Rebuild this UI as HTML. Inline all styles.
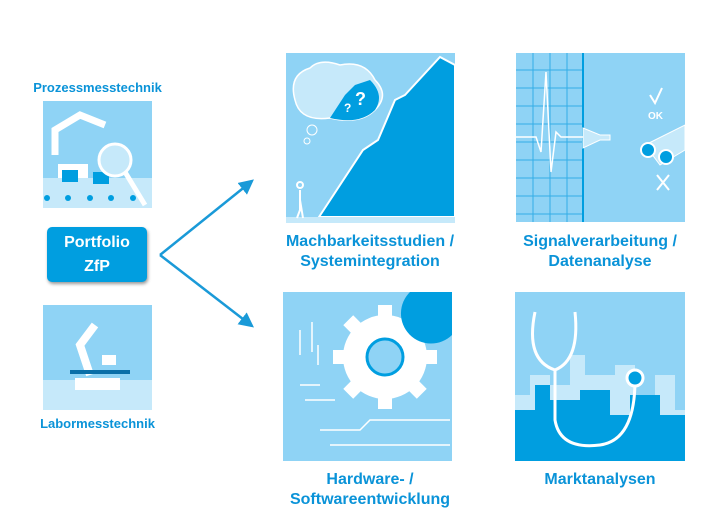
<!DOCTYPE html>
<html><head><style>
body{margin:0;width:713px;height:518px;background:#fff;font-family:"Liberation Sans",sans-serif;position:relative;overflow:hidden}
.t{position:absolute;color:#0a93d8;font-weight:bold;text-align:center}
.s{font-size:13px}
.b{font-size:16px;line-height:20px}
</style></head><body>
<div class="t s" style="left:20px;top:80px;width:155px">Prozessmesstechnik</div>
<div class="t s" style="left:20px;top:416px;width:155px">Labormesstechnik</div>
<div style="position:absolute;left:47px;top:227px;width:100px;height:55px;background:#009ee0;border-radius:5px;box-shadow:1px 2px 3px #999;color:#fff;font-weight:bold;font-size:16px;text-align:center;line-height:24px;padding-top:4px;box-sizing:border-box">Portfolio<br>ZfP</div>
<div class="t b" style="left:250px;top:232px;width:240px">Machbarkeitsstudien /<br>Systemintegration</div>
<div class="t b" style="left:480px;top:232px;width:240px">Signalverarbeitung /<br>Datenanalyse</div>
<div class="t b" style="left:250px;top:470px;width:240px">Hardware- /<br>Softwareentwicklung</div>
<div class="t b" style="left:480px;top:470px;width:240px">Marktanalysen</div>
<svg width="713" height="518" style="position:absolute;left:0;top:0">
<defs><marker id="a" markerWidth="6" markerHeight="6" refX="5" refY="3" orient="auto"><path d="M0,0L6,3L0,6z" fill="#1a9ad8"/></marker></defs>
<path d="M160,255L252,181" stroke="#1a9ad8" stroke-width="2.5" fill="none" marker-end="url(#a)"/>
<path d="M160,255L252,326" stroke="#1a9ad8" stroke-width="2.5" fill="none" marker-end="url(#a)"/>
<!-- left top -->
<rect x="43" y="101" width="109" height="107" fill="#8fd3f5"/>
<rect x="43" y="178" width="109" height="30" fill="#c6e9fa"/>
<g fill="#009ee0"><circle cx="47" cy="198" r="3"/><circle cx="68" cy="198" r="3"/><circle cx="90" cy="198" r="3"/><circle cx="111" cy="198" r="3"/><circle cx="133" cy="198" r="3"/></g>
<path d="M55,155L55,130L80,115L105,125" stroke="#fff" stroke-width="7" fill="none"/>
<rect x="58" y="164" width="30" height="14" fill="#fff"/>
<rect x="62" y="170" width="16" height="12" fill="#009ee0"/><rect x="93" y="172" width="16" height="12" fill="#009ee0"/>
<circle cx="115" cy="160" r="16" fill="#c6e9fa" stroke="#fff" stroke-width="3"/>
<path d="M125,172L145,205" stroke="#fff" stroke-width="5"/>
<!-- left bottom -->
<rect x="43" y="305" width="109" height="105" fill="#8fd3f5"/>
<rect x="43" y="380" width="109" height="30" fill="#c6e9fa"/>
<path d="M90,375L80,345L95,325" stroke="#fff" stroke-width="8" fill="none"/>
<rect x="75" y="378" width="45" height="12" fill="#fff"/><rect x="70" y="370" width="60" height="4" fill="#0a6fa8"/>
<rect x="102" y="355" width="14" height="10" fill="#fff"/>
<!-- top-left -->
<rect x="286" y="53" width="169" height="170" fill="#8fd3f5"/>
<path d="M319,217L363,150L378,140L395,100L405,95L440,57L455,65L455,217z" fill="#009ee0" stroke="#fff" stroke-width="2"/>
<rect x="286" y="217" width="169" height="6" fill="#c6e9fa"/>
<path d="M295,100Q288,75 310,68Q320,58 340,65Q365,60 375,80Q390,95 375,110Q360,125 330,118Q300,122 295,100z" fill="#c6e9fa" stroke="#fff" stroke-width="1.5"/>
<path d="M330,118L345,95L355,85L370,80Q385,95 375,110Q360,125 330,118z" fill="#009ee0"/>
<text x="355" y="105" fill="#fff" font-size="18" font-weight="bold">?</text><text x="344" y="112" fill="#fff" font-size="12" font-weight="bold">?</text>
<circle cx="312" cy="130" r="5" fill="none" stroke="#fff"/><circle cx="307" cy="141" r="3" fill="none" stroke="#fff"/>
<path d="M300,190v20l-3,8M300,200l3,18" stroke="#fff" stroke-width="2" fill="none"/><circle cx="300" cy="185" r="3" fill="none" stroke="#fff" stroke-width="2"/>
<!-- top-right -->
<rect x="516" y="53" width="169" height="169" fill="#8fd3f5"/>
<g stroke="#33aee6" stroke-width="1"><path d="M533,53v169M550,53v169M567,53v169M516,70h67M516,88h67M516,106h67M516,124h67M516,142h67M516,160h67M516,178h67M516,196h67M516,214h67"/></g>
<path d="M583,53v169" stroke="#009ee0" stroke-width="2"/>
<path d="M516,137h20l5,15l5,-80l5,100l5,-40l5,5h30" stroke="#fff" stroke-width="1.5" fill="none"/>
<path d="M583,128L600,135L610,135L610,140L600,140L583,148z" fill="#c6e9fa" stroke="#fff"/>
<path d="M645,145L685,125L685,150L660,165z" fill="#c6e9fa" stroke="#fff"/>
<circle cx="648" cy="150" r="7" fill="#009ee0" stroke="#fff" stroke-width="2"/><circle cx="666" cy="157" r="7" fill="#009ee0" stroke="#fff" stroke-width="2"/>
<text x="648" y="119" fill="#fff" font-size="10" font-weight="bold">OK</text>
<path d="M650,95l5,8l7,-15" stroke="#fff" stroke-width="2" fill="none"/>
<path d="M657,175l12,15M669,175l-12,15" stroke="#fff" stroke-width="2"/>
<!-- bottom-left -->
<rect x="283" y="292" width="169" height="169" fill="#8fd3f5"/>
<circle cx="385" cy="357" r="42" fill="#fff"/>
<g fill="#fff"><rect x="378" y="305" width="14" height="104"/><rect x="333" y="350" width="104" height="14"/><rect x="378" y="305" width="14" height="104" transform="rotate(45 385 357)"/><rect x="378" y="305" width="14" height="104" transform="rotate(-45 385 357)"/></g>
<circle cx="385" cy="357" r="18" fill="#8fd3f5" stroke="#009ee0" stroke-width="3"/>
<path d="M410,292A25,25 0 0 0 452,335V292z" fill="#009ee0"/>
<g stroke="#fff" stroke-width="1.5" fill="none"><path d="M300,330v25M312,322v30M318,345v20M300,385h20M305,400h30M320,430h40l10,-10h80M330,445h120"/></g>
<!-- bottom-right -->
<rect x="515" y="292" width="170" height="169" fill="#8fd3f5"/>
<path d="M515,461V395h15v-20h20v10h20v-30h15v20h30v-10h20v30h20v-20h20v35h10V461z" fill="#c6e9fa"/>
<path d="M515,461V410h20v-25h15v15h30v-10h30v25h20v-20h30v20h25V461z" fill="#009ee0"/>
<path d="M535,312Q525,360 555,370Q580,360 575,312" stroke="#fff" stroke-width="3" fill="none"/>
<path d="M555,370V420Q560,450 600,445Q635,440 635,380" stroke="#fff" stroke-width="3" fill="none"/>
<circle cx="635" cy="378" r="8" fill="#009ee0" stroke="#fff" stroke-width="3"/>
</svg>
</body></html>
